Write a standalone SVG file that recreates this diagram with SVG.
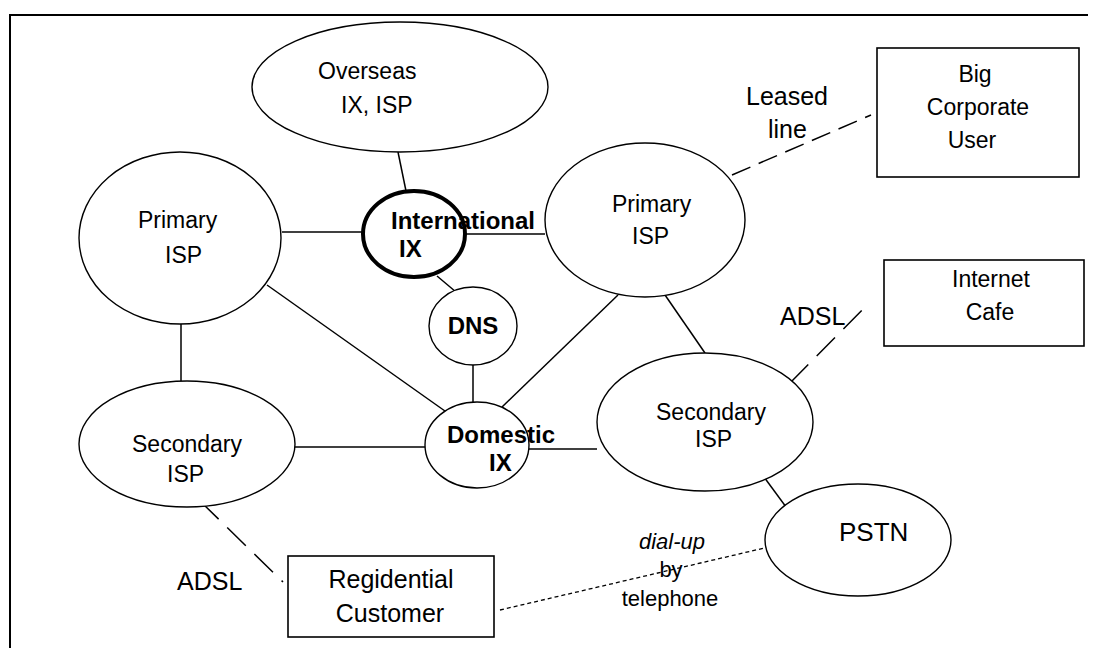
<svg xmlns="http://www.w3.org/2000/svg" width="1096" height="650" viewBox="0 0 1096 650">
  <style>
    .node { fill: #ffffff; stroke: #000000; stroke-width: 1.4; }
    .ix { fill: #ffffff; stroke: #000000; stroke-width: 4; }
    .box { fill: #ffffff; stroke: #000000; stroke-width: 1.6; }
    .t { font-family: "Liberation Sans", Arial, sans-serif; font-size: 23px; fill: #000000; }
    .b { font-weight: bold; font-size: 24px; }
    .lbl { font-size: 25px; }
    .sm { font-size: 22px; }
    .it { font-style: italic; }
    .c { text-anchor: middle; }
    .link { stroke: #000000; stroke-width: 1.5; fill: none; }
    .lease { stroke-dasharray: 20 9; }
    .adsl { stroke-dasharray: 26 12; }
    .dial { stroke-dasharray: 4 3; stroke-width: 1.3; }
  </style>
  <rect width="1096" height="650" fill="#ffffff"/>

  <!-- outer frame: top and left edges only -->
  <g id="frame" stroke="#000000" stroke-width="2" fill="none">
    <line x1="9" y1="15" x2="1088" y2="15"/>
    <line x1="10" y1="15" x2="10" y2="648"/>
  </g>

  <!-- connections -->
  <g id="connectors">
    <line class="link" x1="398" y1="152" x2="406" y2="191"/>
    <line class="link" x1="282" y1="232" x2="363" y2="232"/>
    <line class="link" x1="466" y1="234" x2="545" y2="234"/>
    <line class="link" x1="437" y1="276" x2="456" y2="292"/>
    <line class="link" x1="473" y1="365" x2="473" y2="402"/>
    <line class="link" x1="267" y1="285" x2="452" y2="416"/>
    <line class="link" x1="618" y1="295" x2="502" y2="407"/>
    <line class="link" x1="665" y1="295" x2="705" y2="353"/>
    <line class="link" x1="181" y1="324" x2="181" y2="381"/>
    <line class="link" x1="295" y1="447" x2="425" y2="447"/>
    <line class="link" x1="529" y1="449" x2="597" y2="449"/>
    <line class="link" x1="764" y1="477" x2="789" y2="511"/>
    <line class="link lease" x1="732" y1="175" x2="871" y2="115"/>
    <line class="link adsl" x1="790" y1="383" x2="870" y2="302"/>
    <line class="link adsl" x1="200" y1="501" x2="283" y2="582"/>
    <line class="link dial" x1="500" y1="610" x2="773" y2="546"/>
  </g>

  <g id="overseas">
    <ellipse class="node" cx="400" cy="87" rx="148" ry="65"/>
    <text class="t" x="318" y="79">Overseas</text>
    <text class="t" x="341" y="113">IX, ISP</text>
  </g>

  <g id="primary-isp-left">
    <ellipse class="node" cx="180" cy="238" rx="101" ry="86"/>
    <text class="t" x="138" y="228">Primary</text>
    <text class="t" x="165" y="263">ISP</text>
  </g>

  <g id="international-ix">
    <ellipse class="ix" cx="414" cy="234" rx="51" ry="43"/>
    <text class="t b" x="391" y="229">International</text>
    <text class="t b" x="399" y="257">IX</text>
  </g>

  <g id="primary-isp-right">
    <ellipse class="node" cx="645" cy="220" rx="100" ry="77"/>
    <text class="t" x="612" y="212">Primary</text>
    <text class="t" x="632" y="244">ISP</text>
  </g>

  <g id="dns">
    <ellipse class="node" cx="473" cy="326" rx="44" ry="39"/>
    <text class="t b c" x="473" y="334">DNS</text>
  </g>

  <g id="domestic-ix">
    <ellipse class="node" cx="477" cy="445" rx="52" ry="43"/>
    <text class="t b" x="447" y="443">Domestic</text>
    <text class="t b" x="489" y="471">IX</text>
  </g>

  <g id="secondary-isp-left">
    <ellipse class="node" cx="187" cy="444" rx="108" ry="63"/>
    <text class="t" x="132" y="452">Secondary</text>
    <text class="t" x="167" y="482">ISP</text>
  </g>

  <g id="secondary-isp-right">
    <ellipse class="node" cx="705" cy="422" rx="108" ry="69"/>
    <text class="t" x="656" y="420">Secondary</text>
    <text class="t" x="695" y="447">ISP</text>
  </g>

  <g id="pstn">
    <ellipse class="node" cx="858" cy="540" rx="93" ry="56"/>
    <text class="t" x="839" y="541" style="font-size:26px">PSTN</text>
  </g>

  <g id="big-corporate-user">
    <rect class="box" x="877" y="48" width="202" height="129"/>
    <text class="t c" x="975" y="82">Big</text>
    <text class="t c" x="978" y="115">Corporate</text>
    <text class="t c" x="972" y="148">User</text>
  </g>

  <g id="internet-cafe">
    <rect class="box" x="884" y="260" width="200" height="86"/>
    <text class="t c" x="991" y="287">Internet</text>
    <text class="t c" x="990" y="320">Cafe</text>
  </g>

  <g id="residential-customer">
    <rect class="box" x="288" y="556" width="206" height="81"/>
    <text class="t c" x="391" y="588" style="font-size:25px">Regidential</text>
    <text class="t c" x="390" y="622" style="font-size:25px">Customer</text>
  </g>

  <g id="link-labels">
    <text class="t lbl" x="746" y="105">Leased</text>
    <text class="t lbl" x="768" y="138">line</text>
    <text class="t lbl" x="780" y="325">ADSL</text>
    <text class="t lbl" x="177" y="590">ADSL</text>
    <text class="t sm it c" x="672" y="549">dial-up</text>
    <text class="t sm c" x="671" y="577">by</text>
    <text class="t sm c" x="670" y="606">telephone</text>
  </g>
</svg>
